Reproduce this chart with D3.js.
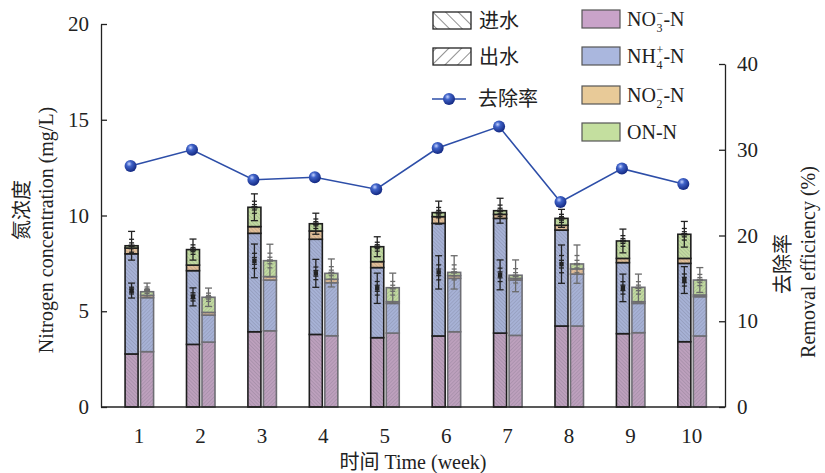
<!DOCTYPE html>
<html>
<head>
<meta charset="utf-8">
<script src="https://cdn.jsdelivr.net/npm/d3@7/dist/d3.min.js"></script>
<style>
  html, body { margin: 0; padding: 0; background: #fff; }
  svg { display: block; }
  text { font-family: "Liberation Serif", "Times New Roman", "Noto Sans CJK SC", serif; fill: #222; }
</style>
</head>
<body>
<svg id="chart" width="825" height="473"></svg>
<script>
// Weeks on the x axis
const weeks = [1, 2, 3, 4, 5, 6, 7, 8, 9, 10];

// Influent (进水) nitrogen fractions, mg/L
const infNO3 = [2.77, 3.27, 3.93, 3.79, 3.62, 3.71, 3.86, 4.23, 3.83, 3.41];
const infNH4 = [5.23, 3.85, 5.14, 4.97, 3.66, 5.88, 5.99, 5.01, 3.71, 4.09];
const infNO2 = [0.30, 0.29, 0.35, 0.43, 0.31, 0.35, 0.21, 0.25, 0.22, 0.26];
const infON  = [0.12, 0.81, 1.01, 0.38, 0.78, 0.21, 0.19, 0.36, 0.91, 1.26];

// Effluent (出水) nitrogen fractions, mg/L
const effNO3 = [2.89, 3.39, 3.98, 3.72, 3.86, 3.93, 3.74, 4.23, 3.88, 3.71];
const effNH4 = [2.82, 1.41, 2.65, 2.77, 1.55, 2.79, 2.89, 2.71, 1.53, 2.05];
const effNO2 = [0.12, 0.14, 0.18, 0.18, 0.09, 0.14, 0.09, 0.27, 0.09, 0.09];
const effON  = [0.19, 0.79, 0.83, 0.31, 0.73, 0.17, 0.16, 0.26, 0.75, 0.78];

// Error bars: influent total (half range), influent inner, effluent
const infTopErr  = [0.75, 0.55, 0.70, 0.55, 0.52, 0.60, 0.65, 0.47, 0.62, 0.67];
const infMidVal  = [6.08, 5.75, 7.63, 6.98, 6.20, 7.03, 6.90, 7.46, 6.22, 6.63];
const infMidErr  = [0.39, 0.47, 0.88, 0.73, 0.79, 0.87, 0.78, 1.00, 0.72, 0.70];
const effErrVal  = [6.10, 5.73, 7.65, 7.00, 6.20, 7.03, 6.85, 7.46, 6.22, 6.63];
const effErrHalf = [0.37, 0.48, 0.85, 0.73, 0.79, 0.87, 0.83, 1.00, 0.72, 0.65];

// Removal efficiency, %
const removal = [28.1, 30.0, 26.5, 26.8, 25.4, 30.2, 32.7, 23.9, 27.8, 26.0];

// Axis ticks
const leftTicks = [0, 5, 10, 15, 20];
const rightTicks = [0, 10, 20, 30, 40];

const keys = ["NO3", "NH4", "NO2", "ON"];
// legend swatch colours and the slightly muted fills used inside the bars
const colors = { NO3: "#c9a3c9", NH4: "#aab7de", NO2: "#e8ca98", ON: "#c4df9f" };
const barColors = { NO3: "#bda0bd", NH4: "#a7b2d6", NO2: "#e2bf98", ON: "#c2dba0" };
const legendLabels = {
  NO3: ["NO", "3", "−", "-N"],
  NH4: ["NH", "4", "+", "-N"],
  NO2: ["NO", "2", "−", "-N"],
  ON: ["ON-N"]
};

const svg = d3.select("#chart");
const defs = svg.append("defs");

const x = d3.scaleLinear().domain([0.38, 10.54]).range([101, 725]);
const yL = d3.scaleLinear().domain([0, 20]).range([407, 24]);
const yR = d3.scaleLinear().domain([0, 40]).range([407, 64]);

const barW = 13;

// Fine hatch patterns for bar fills: influent "\\", effluent "//"
function hatch(id, color, angle, spacing, lineColor, sw) {
  const p = defs.append("pattern")
    .attr("id", id)
    .attr("patternUnits", "userSpaceOnUse")
    .attr("width", spacing).attr("height", spacing)
    .attr("patternTransform", `rotate(${angle})`);
  p.append("rect").attr("width", spacing).attr("height", spacing).attr("fill", color);
  p.append("line").attr("x1", 0).attr("y1", 0).attr("x2", 0).attr("y2", spacing)
    .attr("stroke", lineColor).attr("stroke-width", sw);
}
keys.forEach(k => {
  hatch(`in-${k}`, barColors[k], -45, 2.6, "rgba(80,80,95,0.38)", 0.9);
  hatch(`out-${k}`, barColors[k], 45, 2.6, "rgba(80,80,95,0.34)", 0.9);
});
hatch("leg-in", "#fff", -45, 9, "#222", 1);
hatch("leg-out", "#fff", 45, 9, "#222", 1);

// Gradient for the spherical markers
const grad = defs.append("radialGradient").attr("id", "ball")
  .attr("cx", "38%").attr("cy", "32%").attr("r", "65%");
grad.append("stop").attr("offset", "0%").attr("stop-color", "#c4d2ff");
grad.append("stop").attr("offset", "35%").attr("stop-color", "#3f62c8");
grad.append("stop").attr("offset", "100%").attr("stop-color", "#162c86");

const stack = d3.stack().keys(keys);
const infRows = weeks.map((w, i) => ({ week: w, NO3: infNO3[i], NH4: infNH4[i], NO2: infNO2[i], ON: infON[i] }));
const effRows = weeks.map((w, i) => ({ week: w, NO3: effNO3[i], NH4: effNH4[i], NO2: effNO2[i], ON: effON[i] }));
const infStack = stack(infRows);
const effStack = stack(effRows);

const bars = svg.append("g");

function drawBars(series, prefix, dx, stroke) {
  series.forEach(s => {
    bars.append("g").selectAll("rect").data(s).join("rect")
      .attr("x", d => x(d.data.week) + dx)
      .attr("width", barW)
      .attr("y", d => yL(d[1]))
      .attr("height", d => yL(d[0]) - yL(d[1]))
      .attr("fill", `url(#${prefix}-${s.key})`)
      .attr("stroke", stroke)
      .attr("stroke-width", 1.6);
  });
}
drawBars(effStack, "out", 1.5, "#6e6e74");
drawBars(infStack, "in", -14, "#1e1e1e");

// Error bars
const eb = svg.append("g");
function errbar(cx, center, half, color, marker) {
  const g = eb.append("g").attr("stroke", color).attr("stroke-width", 1.3);
  const y0 = yL(center - half), y1 = yL(center + half);
  g.append("line").attr("x1", cx).attr("x2", cx).attr("y1", y0).attr("y2", y1);
  [center - half, center + half].forEach(v =>
    g.append("line").attr("x1", cx - 3.5).attr("x2", cx + 3.5).attr("y1", yL(v)).attr("y2", yL(v)));
  [center - half * 0.45, center + half * 0.45, center - half * 0.2, center + half * 0.2].forEach(v =>
    g.append("line").attr("x1", cx - 2.5).attr("x2", cx + 2.5).attr("y1", yL(v)).attr("y2", yL(v)));
  if (marker) {
    g.append("rect").attr("x", cx - 2.2).attr("y", yL(center) - 2.2)
      .attr("width", 4.4).attr("height", 4.4).attr("fill", color).attr("stroke", "none");
  } else {
    g.append("line").attr("x1", cx - 3).attr("x2", cx + 3).attr("y1", yL(center)).attr("y2", yL(center))
      .attr("stroke-width", 2.5);
  }
}
weeks.forEach((w, i) => {
  const cIn = x(w) - 14 + barW / 2;
  const cOut = x(w) + 1.5 + barW / 2;
  const total = infNO3[i] + infNH4[i] + infNO2[i] + infON[i];
  errbar(cIn, total, infTopErr[i], "#222", false);
  errbar(cIn, infMidVal[i], infMidErr[i], "#222", true);
  errbar(cOut, effErrVal[i], effErrHalf[i], "#6a6a6a", false);
});

// Removal efficiency line
const lineX = w => x(w) - 8.5;
const line = d3.line().x((d, i) => lineX(weeks[i])).y(d => yR(d));
svg.append("path").datum(removal).attr("d", line)
  .attr("fill", "none").attr("stroke", "#2d4ea8").attr("stroke-width", 1.6);
svg.append("g").selectAll("circle").data(removal).join("circle")
  .attr("cx", (d, i) => lineX(weeks[i])).attr("cy", d => yR(d))
  .attr("r", 6).attr("fill", "url(#ball)");

// Axes
const fontSize = 21;
const axL = svg.append("g").attr("transform", "translate(101,0)")
  .call(d3.axisLeft(yL).tickValues(leftTicks).tickSize(-6).tickSizeOuter(0).tickPadding(12));
const axR = svg.append("g").attr("transform", "translate(725,0)")
  .call(d3.axisRight(yR).tickValues(rightTicks).tickSize(-6).tickSizeOuter(0).tickPadding(12));
[axL, axR].forEach(a => {
  a.select(".domain").attr("stroke", "#222").attr("stroke-width", 1.3);
  a.selectAll(".tick line").attr("stroke", "#222").attr("stroke-width", 1.3);
  a.selectAll(".tick text").attr("font-size", fontSize).attr("fill", "#222")
    .attr("font-family", "Liberation Serif, Times New Roman, serif");
});
svg.append("line").attr("x1", 101).attr("x2", 725).attr("y1", 407).attr("y2", 407)
  .attr("stroke", "#222").attr("stroke-width", 1.3);

svg.append("g").selectAll("text").data(weeks).join("text")
  .attr("x", d => x(d)).attr("y", 436)
  .attr("text-anchor", "middle").attr("dominant-baseline", "central")
  .attr("font-size", fontSize).text(d => d);

// Axis titles
const titleSize = 20;
svg.append("text").attr("x", 413).attr("y", 462)
  .attr("text-anchor", "middle").attr("dominant-baseline", "central")
  .attr("font-size", titleSize).text("时间 Time (week)");

function vtext(cx, cy, str) {
  svg.append("text").attr("transform", `translate(${cx},${cy}) rotate(-90)`)
    .attr("text-anchor", "middle").attr("dominant-baseline", "central")
    .attr("font-size", titleSize).text(str);
}
vtext(22, 210, "氮浓度");
vtext(46, 230, "Nitrogen concentration (mg/L)");
vtext(783, 264, "去除率");
vtext(808, 262, "Removal efficiency (%)");

// Legend
const leg = svg.append("g");
const legFont = 20;
[["leg-in", 12, "进水"], ["leg-out", 48, "出水"]].forEach(([pid, yy, label]) => {
  leg.append("rect").attr("x", 433).attr("y", yy).attr("width", 38).attr("height", 17)
    .attr("fill", `url(#${pid})`).attr("stroke", "#222").attr("stroke-width", 1.3);
  leg.append("text").attr("x", 479).attr("y", yy + 8.5).attr("dominant-baseline", "central")
    .attr("font-size", legFont).text(label);
});
leg.append("line").attr("x1", 432).attr("x2", 466).attr("y1", 99).attr("y2", 99)
  .attr("stroke", "#2d4ea8").attr("stroke-width", 1.6);
leg.append("circle").attr("cx", 449).attr("cy", 99).attr("r", 6).attr("fill", "url(#ball)");
leg.append("text").attr("x", 478).attr("y", 99).attr("dominant-baseline", "central")
  .attr("font-size", legFont).text("去除率");

// Ion labels: base text, then a stacked subscript and superscript, then "-N"
const legYs = [10, 47, 86, 123];
keys.forEach((k, i) => {
  const yy = legYs[i];
  leg.append("rect").attr("x", 582).attr("y", yy).attr("width", 38).attr("height", 18)
    .attr("fill", colors[k]).attr("stroke", "#555").attr("stroke-width", 1.2);
  const parts = legendLabels[k];
  const base = yy + 16;
  if (parts.length === 1) {
    leg.append("text").attr("x", 627).attr("y", base).attr("font-size", legFont).text(parts[0]);
    return;
  }
  const head = leg.append("text").attr("x", 627).attr("y", base).attr("font-size", legFont).text(parts[0]);
  const w = head.node().getComputedTextLength();
  const sx = 627 + w + 0.5;
  leg.append("text").attr("x", sx).attr("y", base + 6).attr("font-size", 12).text(parts[1]);
  leg.append("text").attr("x", sx).attr("y", base - 9).attr("font-size", 12).text(parts[2]);
  leg.append("text").attr("x", sx + 7).attr("y", base).attr("font-size", legFont).text(parts[3]);
});
</script>
</body>
</html>
